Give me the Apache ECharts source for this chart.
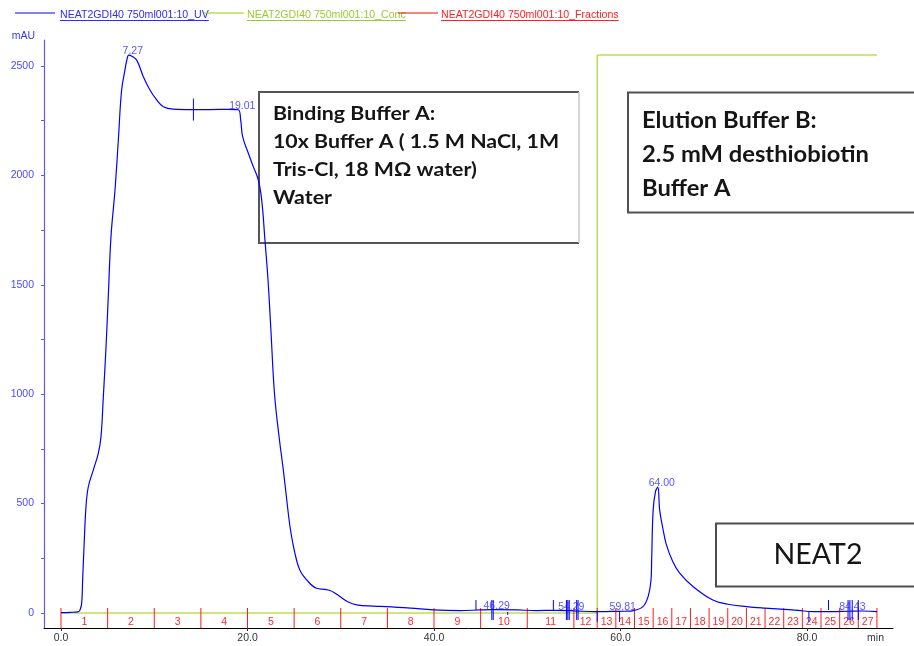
<!DOCTYPE html>
<html>
<head>
<meta charset="utf-8">
<script src="https://cdn.jsdelivr.net/npm/echarts@6/dist/echarts.min.js"></script>
<style>
  html, body { margin: 0; padding: 0; background: #ffffff; }
  #chart { width: 914px; height: 646px; }
</style>
</head>
<body>
<div id="chart"></div>
<script>
// UV absorbance trace (min, mAU)
const uvTime = [0, 1, 1.8, 2.04, 2.22, 2.32, 2.47, 2.68, 2.93, 3.46, 4.0, 4.29, 4.54, 4.83, 5.07, 5.36, 5.79, 6.15, 6.5, 6.86, 7.05, 7.27, 7.6, 8.12, 8.83, 9.54, 10.26, 10.97, 12.04, 14, 16, 18, 19.01, 19.27, 19.48, 20.09, 20.62, 21.16, 21.52, 21.87, 22.2, 22.5, 22.9, 23.4, 23.84, 24.2, 24.56, 25.0, 25.6, 26.35, 27.4, 28.3, 28.85, 29.4, 29.9, 30.8, 31.7, 33.5, 34.9, 37.5, 39.9, 42.8, 45, 46.5, 48.9, 51, 53, 55, 57.4, 59, 60.5, 61.4, 62.4, 62.96, 63.27, 63.34, 63.5, 63.75, 64.0, 64.2, 64.55, 64.9, 65.6, 66.3, 67.8, 69.9, 71.5, 73.5, 75.5, 77.1, 79, 80.7, 82.5, 84.5, 86, 87.5];
const uvAbs = [2, 3, 5, 14, 45, 150, 303, 486, 577, 653, 730, 806, 989, 1217, 1446, 1720, 1933, 2162, 2390, 2482, 2525, 2550, 2545, 2527, 2451, 2390, 2345, 2314, 2303, 2301, 2301, 2302, 2300, 2253, 2177, 2101, 2040, 1979, 1888, 1705, 1522, 1300, 1000, 800, 654, 520, 394, 290, 197, 151, 113, 108, 103, 90, 75, 50, 37, 31, 29, 22, 14, 11, 14, 15, 14, 11, 12, 10, 6, 7, 8, 11, 29, 75, 151, 242, 470, 555, 575, 470, 385, 315, 235, 185, 120, 59, 40, 29, 22, 18, 12, 6, 6, 8, 9, 6];

// Buffer B concentration (%B) step gradient
const concTime = [0, 57.5, 57.5, 87.5];
const concPct = [0, 0, 100, 100];

// Fraction collector boundaries (min) and fraction names
const fractionBounds = [0, 5, 10, 15, 20, 25, 30, 35, 40, 45, 50, 55, 57.5, 59.5, 61.5, 63.5, 65.5, 67.5, 69.5, 71.5, 73.5, 75.5, 77.5, 79.5, 81.5, 83.5, 85.5, 87.5];
const fractionNames = ['1', '2', '3', '4', '5', '6', '7', '8', '9', '10', '11', '12', '13', '14', '15', '16', '17', '18', '19', '20', '21', '22', '23', '24', '25', '26', '27'];

// Retention times of the integrated peaks (min)
const peakTimes = [7.27, 19.01, 46.29, 54.29, 59.81, 64.00, 84.43];

// Logbook events (min) and their marker kind
const eventTimes = [44.5, 46.2, 46.35, 47.9, 52.8, 54.2, 54.35, 54.5, 55.3, 55.45, 57.5, 59.9, 80.2, 82.3, 84.4, 84.6, 84.85, 85.5];
const eventKinds = ['up', 'long', 'long', 'small', 'up', 'long', 'long', 'long', 'long', 'long', 'down', 'down', 'down', 'up', 'long', 'long', 'long', 'long'];
const holdTimes = [14.2];

// Axis tick values
const xTickValues = [0, 20, 40, 60, 80];
const yLabelValues = [0, 500, 1000, 1500, 2000, 2500];
const yTickValues = [0, 250, 500, 750, 1000, 1250, 1500, 1750, 2000, 2250, 2500];

const legendNames = ['NEAT2GDI40 750ml001:10_UV', 'NEAT2GDI40 750ml001:10_Conc', 'NEAT2GDI40 750ml001:10_Fractions'];

const ARIAL = '"Liberation Sans", Arial, sans-serif';
const CALIBRI = 'Lato, "Open Sans", sans-serif';

// linear lookup on the UV trace, used to seat labels and marks on the curve
function uvAt(t) {
  for (let i = 1; i < uvTime.length; i++) {
    if (t <= uvTime[i]) {
      const f = (t - uvTime[i - 1]) / (uvTime[i] - uvTime[i - 1]);
      return uvAbs[i - 1] + f * (uvAbs[i] - uvAbs[i - 1]);
    }
  }
  return uvAbs[uvAbs.length - 1];
}

function textWidth(str, font) {
  const ctx = document.createElement('canvas').getContext('2d');
  ctx.font = font;
  return ctx.measureText(str).width;
}

const uvData = uvTime.map((t, i) => [t, uvAbs[i]]);
const concData = concTime.map((t, i) => [t, concPct[i]]);
const fractionData = fractionBounds.map((t, i) => [t, 0, i]);
const peakData = peakTimes.map(t => [t, uvAt(t)]);
const eventData = eventTimes.map((t, i) => [t, 0, i]);
const holdData = holdTimes.map(t => [t, uvAt(t)]);

// legend drawn as line swatch + underlined name
const legendFont = '10.6px "Liberation Sans", Arial, sans-serif';
const legendItems = [
  { line: '#0000ff', text: '#2b2bff', lx: 15, tx: 60 },
  { line: '#99cc00', text: '#99cc33', lx: 204, tx: 247 },
  { line: '#ff0000', text: '#ff2020', lx: 398, tx: 441 }
];
const legendGraphics = [];
legendItems.forEach((it, i) => {
  const w = textWidth(legendNames[i], legendFont);
  legendGraphics.push(
    { type: 'line', z: 5, shape: { x1: it.lx, y1: 13, x2: it.lx + 40, y2: 13 }, style: { stroke: it.line, lineWidth: 1 } },
    { type: 'text', z: 5, x: it.tx, y: 15, style: { text: legendNames[i], fill: it.text, font: legendFont, textVerticalAlign: 'middle' } },
    { type: 'line', z: 5, shape: { x1: it.tx, y1: 20.5, x2: it.tx + w, y2: 20.5 }, style: { stroke: it.text, lineWidth: 1 } }
  );
});

// annotation boxes
const boxGraphics = [
  { type: 'rect', z: 1, shape: { x: 259, y: 92, width: 320, height: 151 }, style: { fill: '#ffffff', stroke: null } },
  { type: 'polyline', z: 1, shape: { points: [[579, 92], [259, 92], [259, 243], [579, 243]] }, style: { stroke: '#555555', lineWidth: 2, fill: null } },
  { type: 'line', z: 1, shape: { x1: 579, y1: 92, x2: 579, y2: 243 }, style: { stroke: '#c8c8c8', lineWidth: 1.5 } },
  { type: 'text', z: 1, x: 273, y: 100, scaleX: 1.094, style: { text: 'Binding Buffer A:\n10x Buffer A ( 1.5 M NaCl, 1M\nTris-Cl, 18 M\u03A9 water)\nWater', font: 'bold 19.5px ' + CALIBRI, fill: '#151515', lineHeight: 28 } },

  { type: 'rect', z: 1, shape: { x: 628, y: 92.5, width: 300, height: 120 }, style: { fill: '#ffffff', stroke: '#505050', lineWidth: 2 } },
  { type: 'text', z: 1, x: 642, y: 104, scaleX: 1.079, style: { text: 'Elution Buffer B:\n2.5 mM desthiobiotin\nBuffer A', font: 'bold 22px ' + CALIBRI, fill: '#151515', lineHeight: 34 } },

  { type: 'rect', z: 1, shape: { x: 716, y: 523.5, width: 220, height: 63 }, style: { fill: '#ffffff', stroke: '#4d4d4d', lineWidth: 2 } },
  { type: 'text', z: 1, x: 818, y: 555, style: { text: 'NEAT2', font: '28.5px ' + CALIBRI, fill: '#151515', textAlign: 'center', textVerticalAlign: 'middle' } }
];

const chart = echarts.init(document.getElementById('chart'), null, { renderer: 'canvas' });

chart.setOption({
  animation: false,
  backgroundColor: '#ffffff',
  grid: { left: 44, right: 21, top: 40, bottom: 18, containLabel: false },
  xAxis: {
    type: 'value',
    min: -1.823,
    max: 89.22,
    name: 'min',
    nameLocation: 'end',
    nameGap: 0,
    nameTextStyle: { color: '#333333', fontFamily: ARIAL, fontSize: 10.5, align: 'right', verticalAlign: 'top', padding: [5, 9, 0, 0] },
    axisLine: { show: true, onZero: false, lineStyle: { color: '#000000', width: 1 } },
    axisTick: { show: true, customValues: xTickValues, length: 3, lineStyle: { color: '#333333' } },
    axisLabel: { show: true, customValues: xTickValues, color: '#333333', fontFamily: ARIAL, fontSize: 10.5, margin: 5, formatter: v => Number(v).toFixed(1) },
    splitLine: { show: false }
  },
  yAxis: [
    {
      type: 'value',
      min: -68.6,
      max: 2618.8,
      name: 'mAU',
      nameLocation: 'end',
      nameGap: 4,
      nameTextStyle: { color: '#3535ff', fontFamily: ARIAL, fontSize: 10.5, align: 'right', verticalAlign: 'middle', padding: [0, 9, 0, 0] },
      axisLine: { show: true, onZero: false, lineStyle: { color: '#5a5aff', width: 1.2 } },
      axisTick: { show: true, customValues: yTickValues, length: 3, lineStyle: { color: '#5a5aff' } },
      axisLabel: { show: true, customValues: yLabelValues, color: '#4a4aff', fontFamily: ARIAL, fontSize: 10.5, margin: 10, formatter: v => String(Math.round(v)) },
      splitLine: { show: false }
    },
    {
      type: 'value',
      show: false,
      min: -2.688,
      max: 102.69
    }
  ],
  graphic: legendGraphics.concat(boxGraphics),
  series: [
    {
      name: legendNames[1],
      type: 'line',
      yAxisIndex: 1,
      data: concData,
      showSymbol: false,
      silent: true,
      z: 2,
      lineStyle: { color: '#99cc00', width: 1 }
    },
    {
      name: legendNames[2],
      type: 'custom',
      silent: true,
      z: 3,
      clip: false,
      data: fractionData,
      encode: { x: 0, y: 1 },
      renderItem: function (params, api) {
        const i = api.value(2);
        const x = api.coord([api.value(0), 0])[0];
        const bottom = params.coordSys.y + params.coordSys.height;
        const children = [{
          type: 'line',
          shape: { x1: x, y1: bottom, x2: x, y2: bottom - 20 },
          style: { stroke: '#ff1a1a', lineWidth: 1 }
        }];
        if (i < fractionNames.length) {
          const x2 = api.coord([fractionBounds[i + 1], 0])[0];
          children.push({
            type: 'text',
            x: (x + x2) / 2,
            y: bottom - 6,
            style: { text: fractionNames[i], fill: '#ff2a2a', font: '10.5px ' + ARIAL, textAlign: 'center', textVerticalAlign: 'middle' }
          });
        }
        return { type: 'group', children: children };
      }
    },
    {
      name: legendNames[0],
      type: 'line',
      data: uvData,
      smooth: 0.4,
      showSymbol: false,
      silent: true,
      z: 4,
      lineStyle: { color: '#0000ff', width: 1.2 }
    },
    {
      name: 'events',
      type: 'custom',
      silent: true,
      z: 4,
      data: eventData,
      encode: { x: 0, y: 1 },
      renderItem: function (params, api) {
        const kind = eventKinds[api.value(2)];
        const p = api.coord([api.value(0), 0]);
        let y1 = p[1] - 13, y2 = p[1] + 7;
        if (kind === 'up') { y1 = p[1] - 13; y2 = p[1] - 3; }
        else if (kind === 'down') { y1 = p[1] - 2; y2 = p[1] + 9; }
        else if (kind === 'small') { y1 = p[1] - 1; y2 = p[1] + 2; }
        return { type: 'line', shape: { x1: p[0], y1: y1, x2: p[0], y2: y2 }, style: { stroke: '#0000ff', lineWidth: 1 } };
      }
    },
    {
      name: 'hold',
      type: 'custom',
      silent: true,
      z: 4,
      data: holdData,
      encode: { x: 0, y: 1 },
      renderItem: function (params, api) {
        const p = api.coord([api.value(0), api.value(1)]);
        return { type: 'line', shape: { x1: p[0], y1: p[1] - 11, x2: p[0], y2: p[1] + 11 }, style: { stroke: '#0000ff', lineWidth: 1 } };
      }
    },
    {
      name: 'peaks',
      type: 'scatter',
      silent: true,
      z: 5,
      data: peakData,
      symbolSize: 1,
      itemStyle: { color: 'rgba(0,0,0,0)' },
      label: {
        show: true,
        position: 'top',
        distance: -2,
        offset: [4, 0],
        color: '#2a2aff',
        fontFamily: ARIAL,
        fontSize: 10.5,
        formatter: p => p.value[0].toFixed(2)
      }
    }
  ]
});
</script>
</body>
</html>
